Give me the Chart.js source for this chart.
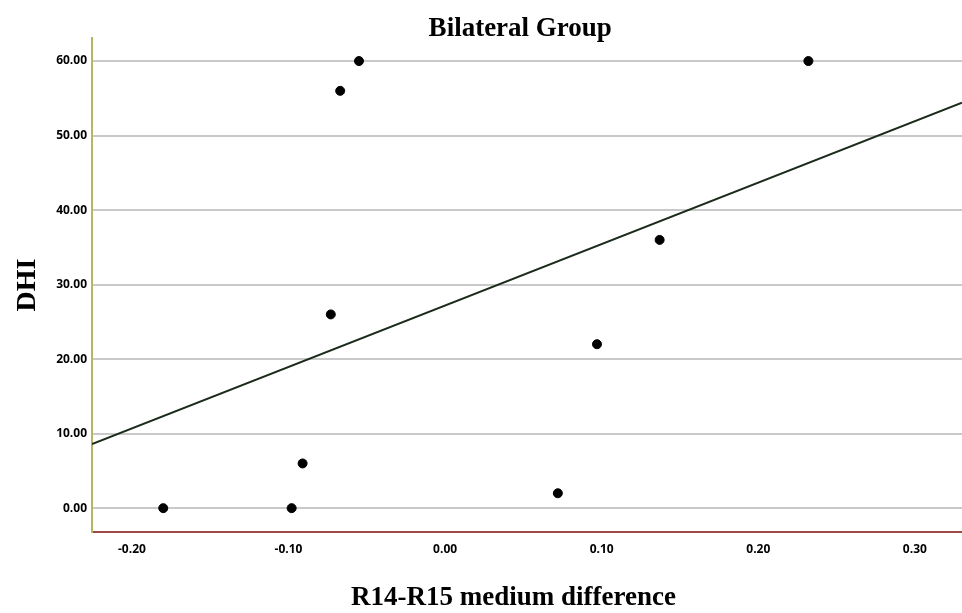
<!DOCTYPE html>
<html>
<head>
<meta charset="utf-8">
<script src="https://cdn.jsdelivr.net/npm/chart.js@4.4.0/dist/chart.umd.min.js"></script>
<style>
  html, body { margin: 0; padding: 0; background: #fff; }
  #wrap { width: 962px; height: 613px; position: relative; }
</style>
</head>
<body>
<div id="wrap"><canvas id="chart"></canvas></div>
<script>
// R14-R15 medium difference vs DHI
const diffValues = [-0.18, -0.098, -0.091, -0.073, -0.067, -0.055, 0.072, 0.097, 0.137, 0.232];
const dhiValues = [0, 0, 6, 26, 56, 60, 2, 22, 36, 60];

// fit line ends
const fitX = [-0.2255, 0.3301];
const fitY = [8.6, 54.4];

const xTicks = [-0.2, -0.1, 0, 0.1, 0.2, 0.3];
const yTicks = [0, 10, 20, 30, 40, 50, 60];

const serif = '"Liberation Serif", "Times New Roman", serif';
const sans = '"Open Sans", "Liberation Sans", sans-serif';

function noPad(s) {
  s.paddingLeft = 0;
  s.paddingRight = 0;
  s.paddingTop = 0;
  s.paddingBottom = 0;
}

const ctx = document.getElementById('chart').getContext('2d');
new Chart(ctx, {
  type: 'scatter',
  data: {
    datasets: [
      {
        label: 'DHI',
        data: diffValues.map((x, i) => ({ x: x, y: dhiValues[i] })),
        backgroundColor: '#000',
        borderColor: '#000',
        pointRadius: 4.5,
        showLine: false
      },
      {
        label: 'Fit',
        data: fitX.map((x, i) => ({ x: x, y: fitY[i] })),
        showLine: true,
        borderColor: '#1b2a1b',
        borderWidth: 2,
        pointRadius: 0
      }
    ]
  },
  options: {
    responsive: true,
    maintainAspectRatio: false,
    animation: false,
    layout: { padding: 0, autoPadding: false },
    plugins: {
      legend: { display: false },
      tooltip: { enabled: false },
      title: {
        display: true,
        text: 'Bilateral Group  ',
        fullSize: false,
        color: '#000',
        font: { family: serif, size: 27, weight: 'bold', lineHeight: 0.85 },
        padding: { top: 17.5, bottom: -2.5 }
      }
    },
    scales: {
      x: {
        type: 'linear',
        min: fitX[0],
        max: fitX[1],
        afterBuildTicks: s => { s.ticks = xTicks.map(v => ({ value: v })); },
        afterFit: s => { s.height = 81; noPad(s); },
        grid: { color: 'transparent', drawTicks: false },
        border: { display: true, color: '#9b4a48', width: 2 },
        ticks: {
          padding: 10,
          color: '#000',
          font: { family: sans, size: 12, weight: 'bold' },
          maxRotation: 0,
          callback: v => v.toFixed(2)
        },
        title: {
          display: true,
          text: 'R14-R15 medium difference    ',
          color: '#000',
          font: { family: serif, size: 27, weight: 'bold' },
          padding: { top: 0, bottom: -1 }
        }
      },
      y: {
        type: 'linear',
        min: -3.2,
        max: 63.1,
        afterBuildTicks: s => { s.ticks = yTicks.map(v => ({ value: v })); },
        afterFit: s => { s.width = 92; noPad(s); },
        grid: { color: '#c9c9c9', lineWidth: 2, drawTicks: false },
        border: { display: true, color: '#b9b462', width: 2 },
        ticks: {
          padding: 5,
          color: '#000',
          font: { family: sans, size: 12, weight: 'bold' },
          callback: v => v.toFixed(2)
        },
        title: {
          display: true,
          text: 'DHI',
          color: '#000',
          font: { family: serif, size: 28, weight: 'bold' },
          padding: { top: 11, bottom: 0 }
        }
      }
    }
  }
});
</script>
</body>
</html>
